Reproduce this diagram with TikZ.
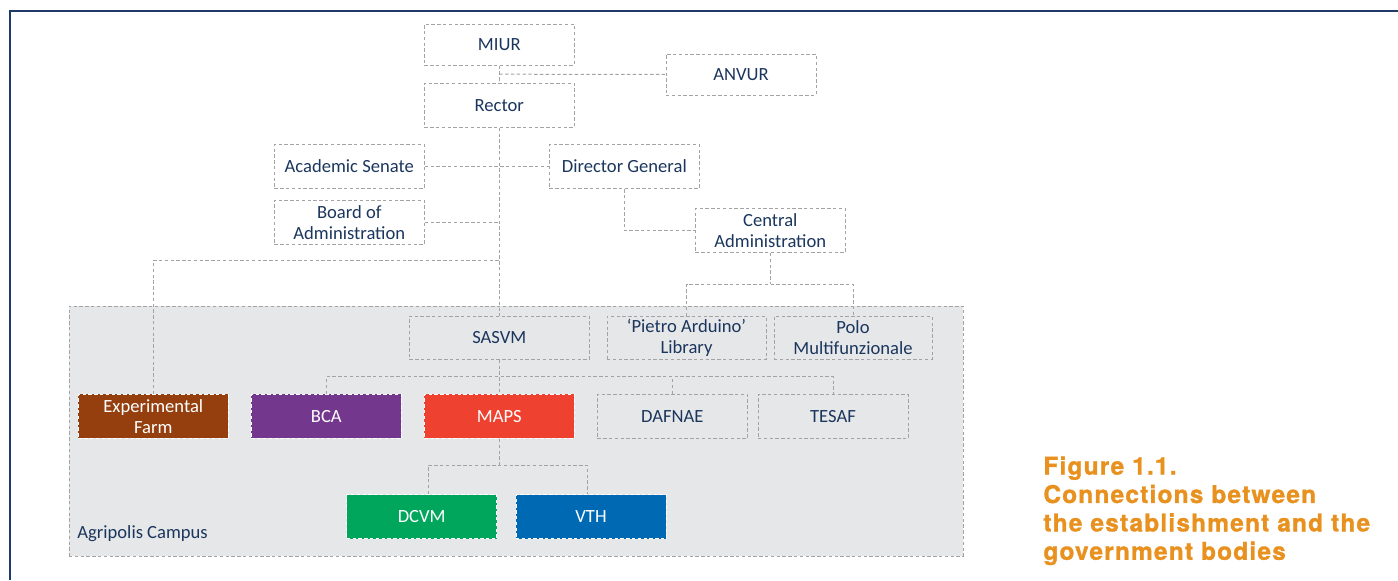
\documentclass[tikz,border=0pt]{standalone}
\usepackage{fontspec}
\usepackage{tikz}
\usetikzlibrary{arrows}
\usepackage{xcolor}
\setmainfont{Carlito}
\newfontfamily\capfont[LetterSpace=5,BoldFeatures={FakeBold=1.2}]{TeX Gyre Heros}

\definecolor{navy}{HTML}{1B365D}
\definecolor{framblue}{HTML}{1F3A68}
\definecolor{boxgray}{HTML}{A3A3A3}
\definecolor{campusgray}{HTML}{E6E7E9}
\definecolor{farmbrown}{HTML}{953F0F}
\definecolor{bcapurple}{HTML}{74378E}
\definecolor{mapsred}{HTML}{EE4130}
\definecolor{dcvmgreen}{HTML}{00A65B}
\definecolor{vthblue}{HTML}{0069B4}
\definecolor{caporange}{HTML}{E8911F}

\begin{document}
\begin{tikzpicture}[x=0.5pt,y=-0.5pt]
		\tikzset{align=center,
			font=\fontsize{9.3}{10.5}\selectfont}
		\tikzset{unit/.style = {shape=rectangle,draw=boxgray,line width=0.5pt,
			dash pattern=on 1.7pt off 1.2pt,minimum width=75pt,minimum height=22pt,
			inner sep=1pt,text=navy}}
		\tikzset{dept/.style = {unit,fill=#1,draw=white,text=white}}
		\tikzset{edge/.style = {-,draw=boxgray,line width=0.5pt,dash pattern=on 1.7pt off 1.2pt}}
		\useasboundingbox (0,0) rectangle (1398,580);
		% frame
		\draw[framblue,line width=1pt] (10,580) -- (10,11) -- (1398,11);
		% campus
		\node[unit,fill=campusgray,minimum width=447pt,minimum height=125pt] (campus) at (516,431) {};
		\node[anchor=west,text=navy,inner sep=0pt] (campuslabel) at (77,534) {Agripolis Campus};
		% units
		\node[unit,minimum height=20.5pt] (miur) at (499.3,44.5) {MIUR};
		\node[unit,minimum height=20.5pt] (anvur) at (741,74.5) {ANVUR};
		\node[unit] (rector) at (499.3,105.2) {Rector};
		\node[unit] (senate) at (349.3,166.6) {Academic Senate};
		\node[unit] (dirgen) at (624.3,166.6) {Director General};
		\node[unit] (board) at (349.3,222.3) {Board of\\Administration};
		\node[unit] (central) at (770.3,230.5) {Central\\Administration};
		\node[unit,minimum width=90pt,minimum height=21.5pt] (sasvm) at (499.3,337.7) {SASVM};
		\node[unit,minimum width=79.5pt,minimum height=21.5pt] (library) at (686.5,337.9) {`Pietro Arduino'\\Library};
		\node[unit,minimum width=79pt,minimum height=21.5pt] (polo) at (853,337.9) {Polo\\Multifunzionale};
		% departments
		\node[dept=farmbrown] (farm) at (153.3,416.4) {Experimental\\Farm};
		\node[dept=bcapurple] (bca) at (326.3,416.4) {BCA};
		\node[dept=mapsred] (maps) at (499.3,416.4) {MAPS};
		\node[unit] (dafnae) at (672.3,416.4) {DAFNAE};
		\node[unit] (tesaf) at (833,416.4) {TESAF};
		\node[dept=dcvmgreen] (dcvm) at (421.7,516.5) {DCVM};
		\node[dept=vthblue] (vth) at (591,516.5) {VTH};

		\node[anchor=north west,align=left,inner sep=0pt,text=caporange,
			font=\capfont\bfseries\fontsize{12.2}{14.2}\selectfont] (caption) at (1043,456)
			{Figure 1.1.\\Connections between\\the establishment and the\\government bodies};

		%edges
		\coordinate (j0) at (499.3,74.2);
		\coordinate (j1) at (499.3,260.3);
		\coordinate (j2) at (770.3,284);
		\coordinate (j3) at (499.3,376.7);
		\coordinate (j4) at (499.3,465);
		\draw[edge] (miur) to (rector);
		\draw[edge] (j0) to (anvur);
		\draw[edge] (rector) to (sasvm);
		\draw[edge] (senate) to (dirgen);
		\draw[edge] (board) to (board -| rector);
		\draw[edge] (dirgen) |- (central);
		\draw[edge] (central) to (j2);
		\draw[edge] (library) |- (j2) -| (polo);
		\draw[edge] (farm) |- (j1);
		\draw[edge] (sasvm) to (maps);
		\draw[edge] (bca) |- (j3) -| (tesaf);
		\draw[edge] (dafnae) to (dafnae |- j3);
		\draw[edge] (maps) to (j4);
		\draw[edge] ([xshift=3.3pt]dcvm.north) |- (j4) -| ([xshift=-2pt]vth.north);
		\end{tikzpicture}
\end{document}
